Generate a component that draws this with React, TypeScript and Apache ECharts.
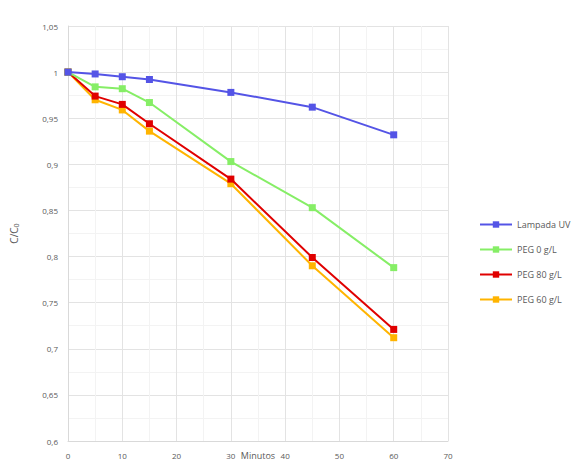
import React, { useEffect, useRef } from "react";
import * as echarts from "echarts";

const minutes = [0, 5, 10, 15, 30, 45, 60];
const seriesNames = ["Lampada UV", "PEG 0 g/L", "PEG 80 g/L", "PEG 60 g/L"];
const lampadaUV = [1, 0.998, 0.995, 0.992, 0.978, 0.962, 0.932];
const peg0 = [1, 0.984, 0.982, 0.967, 0.903, 0.853, 0.788];
const peg80 = [1, 0.974, 0.965, 0.944, 0.884, 0.799, 0.721];
const peg60 = [1, 0.970, 0.959, 0.936, 0.879, 0.790, 0.712];
const colors = ["#5454E6", "#86EE66", "#E00000", "#FFB400"];

export default function App() {
  const ref = useRef<HTMLDivElement>(null);
  useEffect(() => {
    if (!ref.current) return;
    const chart = echarts.init(ref.current, null, { renderer: "svg" });
    const all = [lampadaUV, peg0, peg80, peg60];
    chart.setOption({
      animation: false,
      backgroundColor: "#ffffff",
      textStyle: { fontFamily: "Open Sans, Noto Sans, sans-serif" },
      grid: { left: 68, right: 132, top: 26, bottom: 23, containLabel: false, outerBoundsMode: "none" },
      legend: {
        orient: "vertical",
        left: 474,
        top: 215,
        itemGap: 16,
        itemWidth: 32,
        itemHeight: 8,
        textStyle: { color: "#595959", fontSize: 9 },
        data: seriesNames,
      },
      xAxis: {
        type: "value",
        min: 0,
        max: 70,
        interval: 10,
        name: "Minutos",
        nameLocation: "middle",
        nameGap: 10,
        nameMoveOverlap: false,
        nameTextStyle: { color: "#595959", fontSize: 9, verticalAlign: "top" },
        axisLine: { show: true, lineStyle: { color: "#d9d9d9" } },
        axisTick: { show: false },
        axisLabel: { color: "#595959", fontSize: 8, margin: 10 },
        splitLine: { show: true, lineStyle: { color: "#e3e3e3" } },
        minorTick: { show: false, splitNumber: 2 },
        minorSplitLine: { show: true, lineStyle: { color: "#f3f3f3" } },
      },
      yAxis: {
        type: "value",
        min: 0.6,
        max: 1.05,
        interval: 0.05,
        name: "{a|C/C}{b|0}",
        nameLocation: "middle",
        nameGap: 48,
        nameRotate: 90,
        nameMoveOverlap: false,
        nameTextStyle: {
          color: "#595959",
          fontSize: 10,
          rich: {
            a: { fontSize: 10, color: "#595959" },
            b: { fontSize: 7, color: "#595959", verticalAlign: "bottom", padding: [6, 0, 0, 0] },
          },
        },
        axisLine: { show: true, lineStyle: { color: "#d9d9d9" } },
        axisTick: { show: false },
        axisLabel: {
          color: "#595959",
          fontSize: 8,
          margin: 10,
          formatter: (v: number) => String(Math.round(v * 100) / 100).replace(".", ","),
        },
        splitLine: { show: true, lineStyle: { color: "#e3e3e3" } },
        minorTick: { show: false, splitNumber: 2 },
        minorSplitLine: { show: true, lineStyle: { color: "#f3f3f3" } },
      },
      series: seriesNames.map((name, i) => ({
        name,
        type: "line",
        data: minutes.map((m, j) => [m, all[i][j]]),
        symbol: "rect",
        symbolSize: 7,
        lineStyle: { width: 2, color: colors[i] },
        itemStyle: { color: colors[i] },
        z: 10 - i,
      })),
    });
    return () => chart.dispose();
  }, []);
  return <div ref={ref} style={{ width: 580, height: 464, position: "absolute", left: 0, top: 0 }} />;
}
